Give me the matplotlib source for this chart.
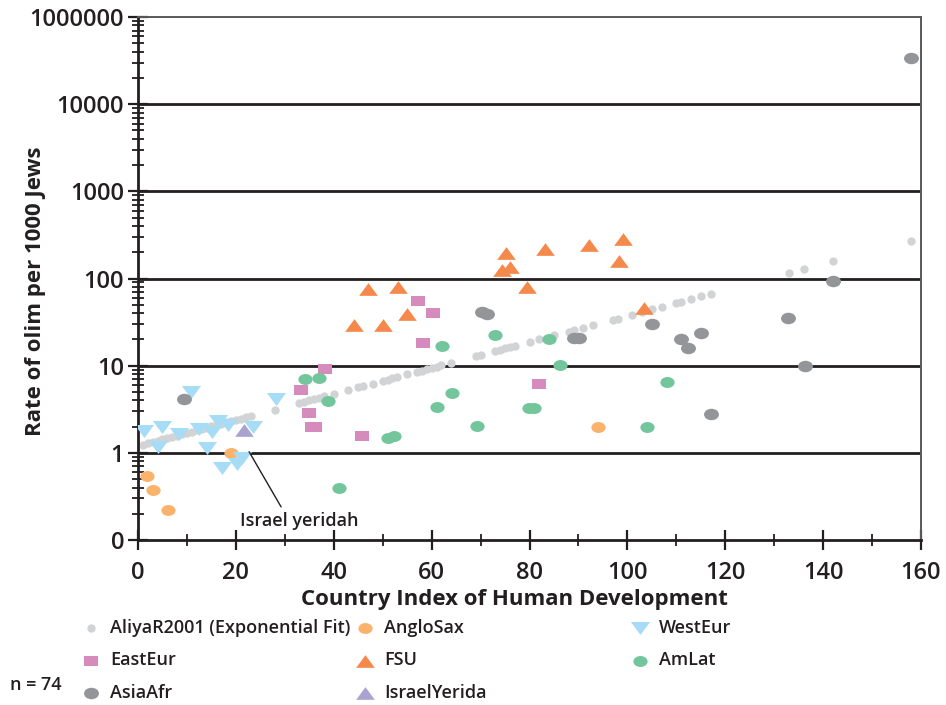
import matplotlib
matplotlib.use("Agg")
import matplotlib.pyplot as plt
from matplotlib.path import Path
from matplotlib.ticker import FixedLocator, FixedFormatter, LogLocator, NullFormatter, MultipleLocator

# exponential fit points (AliyaR2001)
fit_x = [1, 2, 3, 4, 5, 6, 7, 8, 9, 10, 11, 12, 13, 14, 15, 16, 17, 18, 19, 20, 21, 22, 23,
         28, 33, 34, 35, 36, 37, 38, 40, 43, 45, 46, 48, 50, 51, 52, 53, 55, 57, 58, 59, 60,
         61, 62, 64, 69, 70, 73, 74, 75, 76, 77, 80, 82, 85, 88, 89, 91, 93, 97, 98, 101,
         103, 105, 107, 110, 111, 113, 115, 117, 133, 136, 142, 158]
fit_y = [1.24, 1.29, 1.33, 1.38, 1.43, 1.48, 1.53, 1.58, 1.64, 1.69, 1.75, 1.81, 1.88, 1.94,
         2.01, 2.08, 2.15, 2.23, 2.31, 2.39, 2.47, 2.56, 2.65, 3.14, 3.73, 3.86, 4.0, 4.13,
         4.28, 4.43, 4.74, 5.26, 5.63, 5.82, 6.24, 6.68, 6.92, 7.16, 7.41, 7.94, 8.49, 8.79,
         9.10, 9.42, 9.75, 10.1, 10.8, 12.8, 13.3, 14.7, 15.2, 15.8, 16.3, 16.9, 18.7, 20.0,
         22.2, 24.6, 25.5, 27.3, 29.2, 33.5, 34.7, 38.5, 41.2, 44.2, 47.2, 52.4, 54.2, 58.1,
         62.2, 66.5, 115, 128, 157, 272]

anglo_x = [1.9, 3.1, 6.1, 19.1, 94.0]
anglo_y = [0.545, 0.376, 0.221, 1.0, 2.0]

west_x = [1.2, 4.9, 4.1, 8.4, 10.8, 12.5, 14.2, 15.2, 16.4, 18.3, 17.2, 20.2, 21.2, 23.4, 28.2]
west_y = [1.76, 2.0, 1.18, 1.65, 5.0, 1.9, 1.13, 1.75, 2.3, 2.1, 0.67, 0.75, 0.88, 2.0, 4.2]

east_x = [33.3, 35.0, 35.5, 36.2, 38.2, 45.8, 57.3, 58.3, 60.3, 82.0]
east_y = [5.3, 2.85, 2.0, 2.0, 9.2, 1.58, 55, 18, 40, 6.1]

fsu_x = [44.2, 47.1, 50.1, 53.2, 55.0, 74.4, 75.2, 76.0, 79.4, 83.2, 92.2, 98.2, 99.2, 103.3]
fsu_y = [29.6, 76, 29.6, 80, 39, 125, 194, 136, 80, 219, 244, 157, 281, 45.6]

amlat_x = [34.2, 37.0, 38.9, 41.1, 51.0, 52.4, 61.1, 62.1, 64.1, 69.2, 73.0, 79.8, 81.0,
           83.9, 86.3, 104.0, 108.1]
amlat_y = [7.1, 7.2, 3.9, 0.39, 1.49, 1.57, 3.4, 17, 4.9, 2.04, 22.5, 3.26, 3.26, 20.4,
           10.2, 2.0, 6.55]

asia_x = [9.3, 70.2, 71.4, 89.0, 90.2, 105.0, 111.0, 112.4, 115.1, 117.1, 132.9, 136.2, 142.1, 158.0]
asia_y = [4.1, 41, 39, 21, 20.7, 30, 20, 16, 24, 2.8, 35, 10, 93, 33800]

yerida_x = [21.7]
yerida_y = [1.84]

ytick_vals = [0.1, 1, 10, 100, 1000, 10000, 100000]
ytick_labels = ["0", "1", "10", "100", "1000", "10000", "1000000"]
grid_vals = [1, 10, 100, 1000, 10000]

# marker shapes: flattened ellipse, triangles, rectangle
_c = Path.unit_circle()
ellipse = Path(_c.vertices * [1.3, 1.0], _c.codes)
tri_down = Path([(-1, 0.68), (1, 0.68), (0, -0.68), (-1, 0.68)], closed=True)
tri_up = Path([(-1, -0.68), (1, -0.68), (0, 0.68), (-1, -0.68)], closed=True)
rect = Path([(-1, -0.78), (1, -0.78), (1, 0.78), (-1, 0.78), (-1, -0.78)], closed=True)

plt.rcParams['font.family'] = ['Open Sans', 'DejaVu Sans']

fig = plt.figure(figsize=(9.46, 7.05), dpi=100)
ax = fig.add_axes([138 / 946, 1 - 540 / 705, 783 / 946, 523 / 705])

for g in grid_vals:
    ax.axhline(g, color='#231f20', lw=2.0, zorder=1)

h_fit = ax.scatter(fit_x, fit_y, s=36, marker='o', color='#d1d3d4', lw=0, zorder=2,
                   label='AliyaR2001 (Exponential Fit)')
h_anglo = ax.scatter(anglo_x, anglo_y, s=105, marker=ellipse, color='#fbb36b', lw=0, zorder=3,
                     label='AngloSax')
h_west = ax.scatter(west_x, west_y, s=190, marker=tri_down, color='#a6dcf6', lw=0, zorder=3,
                    label='WestEur')
h_east = ax.scatter(east_x, east_y, s=100, marker=rect, color='#d58cbd', lw=0, zorder=3,
                    label='EastEur')
h_fsu = ax.scatter(fsu_x, fsu_y, s=180, marker=tri_up, color='#f5884b', lw=0, zorder=3,
                   label='FSU')
h_amlat = ax.scatter(amlat_x, amlat_y, s=105, marker=ellipse, color='#73c69b', lw=0, zorder=3,
                     label='AmLat')
h_asia = ax.scatter(asia_x, asia_y, s=115, marker=ellipse, color='#939598', lw=0, zorder=3,
                    label='AsiaAfr')
h_yer = ax.scatter(yerida_x, yerida_y, s=180, marker=tri_up, color='#a9a3d0', lw=0, zorder=4,
                   label='IsraelYerida')

ax.annotate('Israel yeridah', xy=(22.7, 1.03), xytext=(33.0, 0.165),
            ha='center', va='center', fontsize=13, fontweight='semibold', color='#231f20',
            arrowprops=dict(arrowstyle='-', color='#231f20', lw=1.0, relpos=(0.37, 1.0),
                            shrinkA=2, shrinkB=0))

ax.set_yscale('log')
ax.set_xlim(0, 160)
ax.set_ylim(0.1, 100000)
ax.yaxis.set_major_locator(FixedLocator(ytick_vals))
ax.yaxis.set_major_formatter(FixedFormatter(ytick_labels))
ax.yaxis.set_minor_locator(LogLocator(base=10, subs=range(2, 10), numticks=20))
ax.yaxis.set_minor_formatter(NullFormatter())
ax.xaxis.set_major_locator(MultipleLocator(20))
ax.xaxis.set_minor_locator(MultipleLocator(10))

ax.tick_params(axis='both', which='major', direction='inout', length=14, width=1.6,
               color='#231f20', labelcolor='#231f20', labelsize=17)
ax.tick_params(axis='y', which='major', pad=3)
ax.tick_params(axis='x', which='major', pad=8)
ax.tick_params(axis='both', which='minor', direction='inout', length=9, width=1.3,
               color='#231f20')
for lab in ax.get_xticklabels() + ax.get_yticklabels():
    lab.set_fontweight('semibold')

for side in ['left', 'bottom']:
    ax.spines[side].set_linewidth(2.0)
    ax.spines[side].set_color('#231f20')
for side in ['top', 'right']:
    ax.spines[side].set_linewidth(1.4)
    ax.spines[side].set_color('#58595b')

ax.set_xlabel('Country Index of Human Development', fontsize=16, fontweight='bold',
              color='#231f20', labelpad=0)
ax.xaxis.set_label_coords(0.481, -0.093)
ax.set_ylabel('Rate of olim per 1000 Jews', fontsize=16, fontweight='bold',
              color='#231f20')
ax.yaxis.set_label_coords(-0.117, 0.475)

# legend in three hand-placed columns
columns = [
    ([h_fit, h_east, h_asia], 82),
    ([h_anglo, h_fsu, h_yer], 356),
    ([h_west, h_amlat], 631),
]
for handles, left in columns:
    leg = fig.legend(handles=handles, loc='upper left',
                     bbox_to_anchor=(left / 946, 1 - 619 / 705),
                     frameon=False, fontsize=13, borderpad=0, borderaxespad=0,
                     handlelength=1.0, handletextpad=0.55, labelspacing=0.8)
    for t in leg.get_texts():
        t.set_fontweight('semibold')
        t.set_color('#231f20')

fig.text(10 / 946, 1 - 685 / 705, 'n = 74', fontsize=13, fontweight='semibold',
         color='#231f20', ha='left', va='center')

fig.savefig('out.png', dpi=100)
plt.close(fig)
